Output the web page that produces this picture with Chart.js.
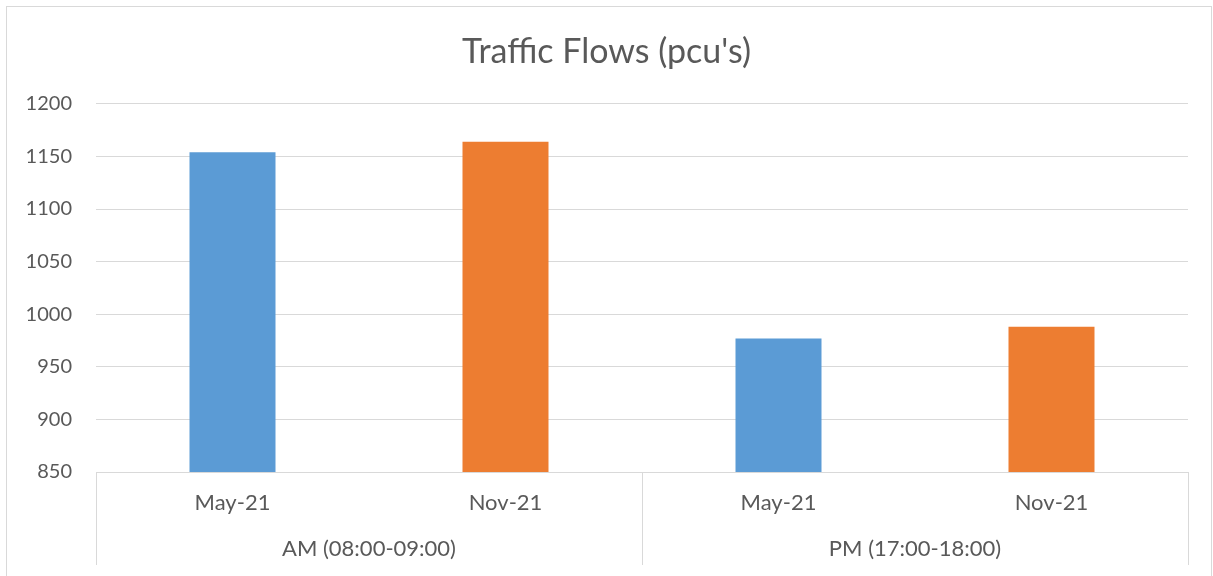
<!DOCTYPE html>
<html>
<head>
<meta charset="utf-8">
<script src="https://cdn.jsdelivr.net/npm/chart.js@4.4.1/dist/chart.umd.min.js"></script>
<style>
  html, body { margin: 0; padding: 0; background: #fff; }
  #wrap { position: absolute; left: 0; top: 0; width: 1213px; height: 576px; }
</style>
</head>
<body>
<div id="wrap"><canvas id="c"></canvas></div>
<script>
// ---- data ----
const periods = ['AM (08:00-09:00)', 'PM (17:00-18:00)'];
const months = ['May-21', 'Nov-21'];
const may21 = [1154, 977];
const nov21 = [1164, 988];
const yTicks = [850, 900, 950, 1000, 1050, 1100, 1150, 1200];

// build flat categories: each period has May-21 and Nov-21
const subLabels = [];
const mayData = [];
const novData = [];
periods.forEach((p, i) => {
  subLabels.push(months[0]); mayData.push(may21[i]); novData.push(null);
  subLabels.push(months[1]); mayData.push(null); novData.push(nov21[i]);
});

const FONT = 'Lato, "Open Sans", sans-serif';
const TEXT = '#595959';
const GRID = '#d9d9d9';

const frame = {
  id: 'frame',
  beforeDraw(chart) {
    const ctx = chart.ctx;
    ctx.save();
    ctx.fillStyle = '#fff';
    ctx.fillRect(0, 0, chart.width, chart.height);
    ctx.strokeStyle = GRID;
    ctx.lineWidth = 1;
    ctx.strokeRect(6.5, 6.5, chart.width - 8, chart.height + 20);
    ctx.restore();
  },
  afterDraw(chart) {
    const x = chart.scales.x;
    const x2 = chart.scales.x2;
    const ctx = chart.ctx;
    const n = x.ticks.length;
    const per = n / periods.length;
    ctx.save();
    ctx.strokeStyle = GRID;
    ctx.lineWidth = 1;
    for (let g = 0; g <= periods.length; g++) {
      let px;
      if (g === 0) px = x.left;
      else if (g === periods.length) px = x.right;
      else px = (x.getPixelForValue(g * per - 1) + x.getPixelForValue(g * per)) / 2;
      px = Math.round(px) + 0.5;
      ctx.beginPath();
      ctx.moveTo(px, chart.chartArea.bottom);
      ctx.lineTo(px, x2.bottom);
      ctx.stroke();
    }
    ctx.restore();
  }
};

new Chart(document.getElementById('c'), {
  type: 'bar',
  data: {
    labels: subLabels,
    datasets: [
      { label: months[0], data: mayData, backgroundColor: '#5B9BD5', skipNull: true,
        categoryPercentage: 1, barPercentage: 0.315 },
      { label: months[1], data: novData, backgroundColor: '#ED7D31', skipNull: true,
        categoryPercentage: 1, barPercentage: 0.315 }
    ]
  },
  options: {
    responsive: true,
    maintainAspectRatio: false,
    animation: false,
    layout: { padding: { left: 0, right: 0, top: 0, bottom: 11 } },
    plugins: {
      legend: { display: false },
      tooltip: { enabled: false },
      title: {
        display: true,
        text: "Traffic Flows (pcu's)",
        color: TEXT,
        font: { family: FONT, size: 34, weight: 'normal' },
        padding: { top: 32, bottom: 31 }
      }
    },
    scales: {
      y: {
        min: 850, max: 1200,
        afterBuildTicks: (s) => { s.ticks = yTicks.map(v => ({ value: v })); },
        grid: { color: GRID, lineWidth: 1, drawTicks: false },
        border: { display: false },
        ticks: { color: TEXT, font: { family: FONT, size: 20 }, padding: 24,
                 callback: (v) => String(v) },
        afterFit: (s) => { s.width = 96; }
      },
      yr: {
        position: 'right',
        display: true,
        grid: { display: false, drawTicks: false },
        border: { display: false },
        ticks: { display: false },
        afterFit: (s) => { s.width = 25; }
      },
      x: {
        type: 'category',
        position: 'bottom',
        offset: true,
        grid: { display: false, drawTicks: false },
        border: { display: true, color: GRID, width: 1 },
        ticks: { color: TEXT, font: { family: FONT, size: 22 }, padding: 18, maxRotation: 0, autoSkip: false },
        afterFit: (s) => { s.height = 46; }
      },
      x2: {
        type: 'category',
        position: 'bottom',
        offset: true,
        labels: periods,
        grid: { display: false, drawTicks: false },
        border: { display: false },
        ticks: { color: TEXT, font: { family: FONT, size: 22 }, padding: 18, maxRotation: 0, autoSkip: false },
        afterFit: (s) => { s.height = 47; }
      }
    }
  },
  plugins: [frame]
});
</script>
</body>
</html>
